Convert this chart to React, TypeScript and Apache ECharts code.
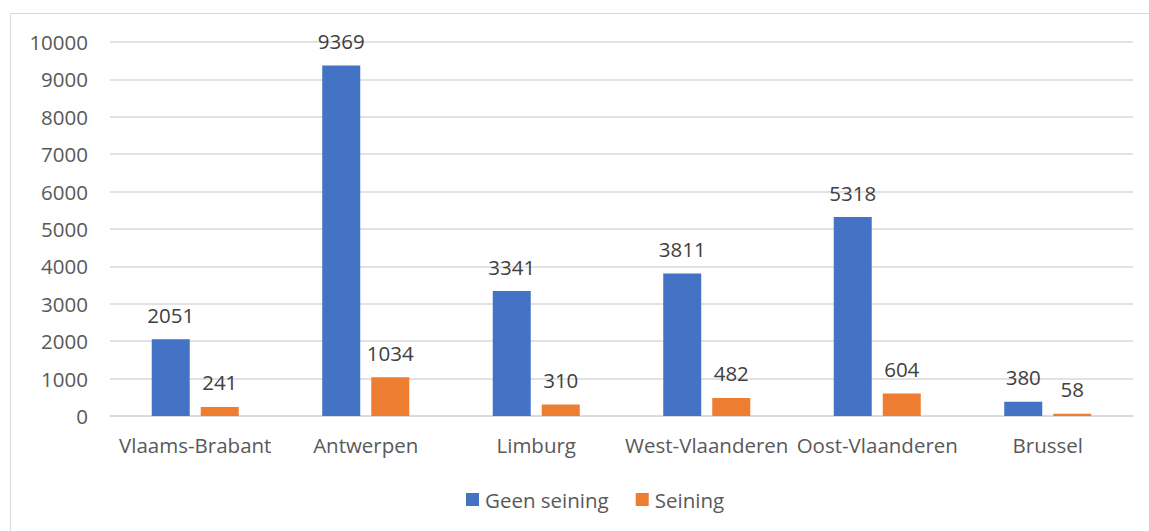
import React, { useEffect, useRef } from "react";
import * as echarts from "echarts";

const categories = ["Vlaams-Brabant", "Antwerpen", "Limburg", "West-Vlaanderen", "Oost-Vlaanderen", "Brussel"];
const geenSeining = [2051, 9369, 3341, 3811, 5318, 380];
const seining = [241, 1034, 310, 482, 604, 58];

const FONT = "'Open Sans', 'Noto Sans', sans-serif";
const FS = 20.5;

export default function App() {
  const ref = useRef<HTMLDivElement>(null);
  useEffect(() => {
    if (!ref.current) return;
    const chart = echarts.init(ref.current, undefined, { renderer: "svg" });
    const label = {
      show: true,
      position: "top",
      distance: 14,
      color: "#404040",
      fontSize: FS,
      fontFamily: FONT,
    };
    chart.setOption({
      animation: false,
      textStyle: { fontFamily: FONT },
      graphic: [
        {
          type: "rect",
          shape: { x: 10.5, y: 13.5, width: 1300, height: 700 },
          style: { fill: "none", stroke: "#d9d9d9", lineWidth: 1 },
          silent: true,
        },
      ],
      grid: { left: 110, right: 16, top: 42, bottom: 115, containLabel: false },
      legend: {
        bottom: 16,
        left: 461,
        itemWidth: 13,
        itemHeight: 13,
        itemGap: 27,
        icon: "rect",
        textStyle: { color: "#595959", fontSize: FS, fontFamily: FONT, padding: [0, 0, 0, 1] },
        data: ["Geen seining", "Seining"],
      },
      xAxis: {
        type: "category",
        data: categories,
        axisLine: { lineStyle: { color: "#d9d9d9", width: 1.5 } },
        axisTick: { show: false },
        axisLabel: { color: "#595959", fontSize: FS, fontFamily: FONT, margin: 18, interval: 0 },
      },
      yAxis: {
        type: "value",
        min: 0,
        max: 10000,
        interval: 1000,
        axisLine: { show: false },
        axisTick: { show: false },
        splitLine: { lineStyle: { color: "#d9d9d9", width: 1.5 } },
        axisLabel: {
          color: "#595959",
          fontSize: FS,
          fontFamily: FONT,
          margin: 22,
          formatter: (v: number) => String(v),
        },
      },
      series: [
        {
          name: "Geen seining",
          type: "bar",
          data: geenSeining,
          barWidth: 38,
          barGap: "29%",
          itemStyle: { color: "#4472C4" },
          label,
        },
        {
          name: "Seining",
          type: "bar",
          data: seining,
          barWidth: 38,
          itemStyle: { color: "#ED7D31" },
          label,
        },
      ],
    });
    return () => chart.dispose();
  }, []);
  return (
    <div
      ref={ref}
      style={{ position: "absolute", left: 0, top: 0, width: 1149, height: 531, background: "#fff" }}
    />
  );
}
